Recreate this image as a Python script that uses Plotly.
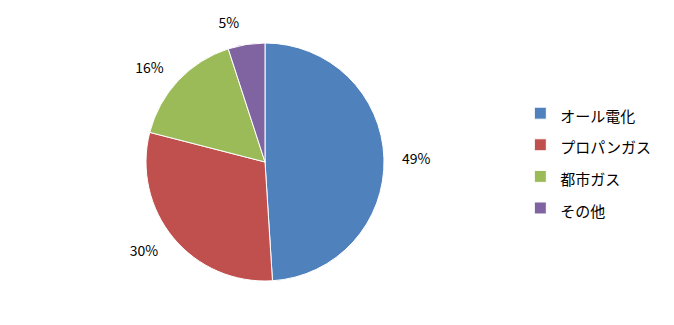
import plotly.graph_objects as go

labels = ["オール電化", "プロパンガス", "都市ガス", "その他"]
values = [49, 30, 16, 5]
colors = ["#4F81BD", "#C0504D", "#9BBB59", "#8064A2"]

W, H = 674, 325
cx, cy, r = 265, 162, 119
r_lbl = r + 13

def dom(rad):
    return dict(x=[(cx - rad) / W, (cx + rad) / W],
                y=[1 - (cy + rad) / H, 1 - (cy - rad) / H])

legend_labels = [f'<span style="font-size:15px">{l}</span>' for l in labels]

# invisible ring carrying the percentage labels slightly further out
fig = go.Figure(go.Pie(
    labels=legend_labels, values=values, sort=False,
    direction="clockwise", rotation=0,
    marker=dict(colors=["rgba(0,0,0,0)"] * 4, line=dict(width=0)),
    texttemplate="%{percent:.0%}", textposition="outside",
    textfont=dict(size=14, color="black", family="Noto Sans CJK JP"),
    domain=dom(r_lbl), showlegend=False, hoverinfo="skip", automargin=False,
))

fig.add_trace(go.Pie(
    labels=legend_labels,
    values=values,
    sort=False,
    direction="clockwise",
    rotation=0,
    marker=dict(colors=colors, line=dict(color="white", width=1)),
    textinfo="none",
    domain=dom(r),
    automargin=False,
))

fig.update_layout(
    width=W, height=H,
    margin=dict(l=0, r=0, t=0, b=0),
    paper_bgcolor="white",
    font=dict(family="Noto Sans CJK JP", color="black"),
    legend=dict(x=0.772, y=0.505, xanchor="left", yanchor="middle",
                font=dict(size=22, family="Noto Sans CJK JP", color="black")),
)

fig.write_html("out.html")
